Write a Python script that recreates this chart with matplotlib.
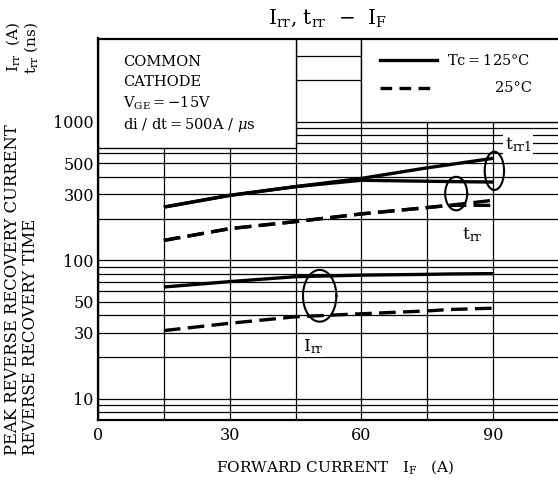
import numpy as np
import matplotlib.pyplot as plt
from matplotlib.patches import Rectangle
from matplotlib.ticker import NullFormatter

plt.rcParams['font.family'] = 'DejaVu Serif'
plt.rcParams['mathtext.fontset'] = 'dejavuserif'

# forward current IF (A)
i_f = [15, 30, 45, 60, 75, 80, 90]

# peak reverse recovery current Irr (A)
irr_125 = [64, 70, 76, 78, 79, 79.5, 80]
irr_25 = [31, 35, 39, 41, 43, 44, 45]

# reverse recovery time (ns)
trr1_125 = [242, 294, 340, 390, 465, 490, 545]
trr_125 = [242, 294, 340, 378, 372, 370, 367]
trr1_25 = [139, 169, 190, 216, 240, 249, 271]
trr_25 = [139, 169, 190, 216, 240, 249, 249]

x_ticks = [0, 15, 30, 45, 60, 75, 90]
x_labels = ['0', '', '30', '', '60', '', '90']
y_ticks = [10, 30, 50, 100, 300, 500, 1000]
y_labels = ['10', '30', '50', '100', '300', '500', '1000']
y_minor = [8, 9, 20, 40, 60, 70, 80, 90, 200, 400, 600, 700, 800, 900, 2000, 3000]

# ellipses grouping curves: centre x, centre y, half width (A), half height (decades)
ell_x = [90.3, 81.6, 50.5]
ell_y = [442, 303, 55.3]
ell_w = [2.2, 2.5, 3.8]
ell_h = [0.138, 0.121, 0.187]

fig = plt.figure(figsize=(5.58, 4.88), dpi=100)
ax = fig.add_axes([98/558, 68/488, 460.9/558, 381.5/488])
ax.set_yscale('log')
ax.set_xlim(0, 105)
ax.set_ylim(7, 4000)

ax.set_xticks(x_ticks, labels=x_labels)
ax.set_yticks(y_ticks, labels=y_labels)
ax.set_yticks(y_minor, minor=True)
ax.yaxis.set_minor_formatter(NullFormatter())
ax.tick_params(which='both', length=0, labelsize=11.5)
ax.tick_params(axis='x', pad=5)
ax.tick_params(axis='y', pad=3)
ax.set_axisbelow(True)
ax.xaxis.grid(True, color='black', lw=0.9)
ax.yaxis.grid(True, which='both', color='black', lw=0.9)
for s in ['left', 'top', 'bottom']:
    ax.spines[s].set_linewidth(1.6)
ax.spines['right'].set_visible(False)

# boxes for the conditions and the legend
ax.add_patch(Rectangle((0, 650), 45, 3350, fc='white', ec='black', lw=1, zorder=1.5))
ax.add_patch(Rectangle((60, 1000), 45, 3000, fc='white', ec='black', lw=1, zorder=1.5))

dash = (5, 2.2)
ax.plot(i_f, trr1_125, color='black', lw=2.4, solid_capstyle='butt')
ax.plot(i_f, trr_125, color='black', lw=2.4, solid_capstyle='butt')
ax.plot(i_f, trr1_25, color='black', lw=2.4, dashes=dash)
ax.plot(i_f, trr_25, color='black', lw=2.4, dashes=dash)
ax.plot(i_f, irr_125, color='black', lw=2.4, solid_capstyle='butt')
ax.plot(i_f, irr_25, color='black', lw=2.4, dashes=dash)

t = np.linspace(0, 2*np.pi, 120)
for cx, cy, w, h in zip(ell_x, ell_y, ell_w, ell_h):
    ax.plot(cx + w*np.cos(t), cy*10**(h*np.sin(t)), color='black', lw=1.5)

lab_box = dict(fc='white', ec='none', pad=1)
ax.text(95.7, 681, r't$_{\rm rr1}$', fontsize=12.5, ha='center', va='center', bbox=lab_box, zorder=3)
ax.text(85.4, 152, r't$_{\rm rr}$', fontsize=12.5, ha='center', va='center', bbox=lab_box, zorder=3)
ax.text(49, 23.8, r'I$_{\rm rr}$', fontsize=12.5, ha='center', va='center', bbox=lab_box, zorder=3)

# conditions
cond = ['COMMON', 'CATHODE', r'V$_{\rm GE}$$=-$15V', r'di / dt$=$500A / $\mu$s']
cond_y = [0.938, 0.886, 0.831, 0.773]
for s, yy in zip(cond, cond_y):
    ax.text(0.054, yy, s, transform=ax.transAxes, fontsize=10.5, va='center', ha='left', zorder=3)

# legend
ax.plot([0.612, 0.736], [0.943, 0.943], transform=ax.transAxes, color='black', lw=2.4, zorder=3)
ax.plot([0.612, 0.736], [0.870, 0.870], transform=ax.transAxes, color='black', lw=2.4,
        dashes=(3.5, 2.2), zorder=3)
ax.text(0.757, 0.943, 'Tc$=$125°C', transform=ax.transAxes, fontsize=10.5, va='center', zorder=3)
ax.text(0.942, 0.870, '25°C', transform=ax.transAxes, fontsize=10.5, va='center', ha='right', zorder=3)

fig.text(328/558, 1 - 18/488, r'I$_{\rm rr}$, t$_{\rm rr}$  $-$  I$_{\rm F}$', fontsize=14.5,
         ha='center', va='center')
fig.text(335/558, 1 - 467/488, r'FORWARD CURRENT   I$_{\rm F}$   (A)', fontsize=11,
         ha='center', va='center')

fig.text(13/558, 1 - 455/488, 'PEAK REVERSE RECOVERY CURRENT', rotation=90, fontsize=11.8,
         ha='center', va='bottom')
fig.text(30.5/558, 1 - 455/488, 'REVERSE RECOVERY TIME', rotation=90, fontsize=11.8,
         ha='center', va='bottom')
fig.text(13/558, 1 - 22/488, r'I$_{\rm rr}$  (A)', rotation=90, fontsize=11,
         ha='center', va='top')
fig.text(31/558, 1 - 22/488, r't$_{\rm rr}$ (ns)', rotation=90, fontsize=11,
         ha='center', va='top')

fig.savefig('out.png', dpi=100)
